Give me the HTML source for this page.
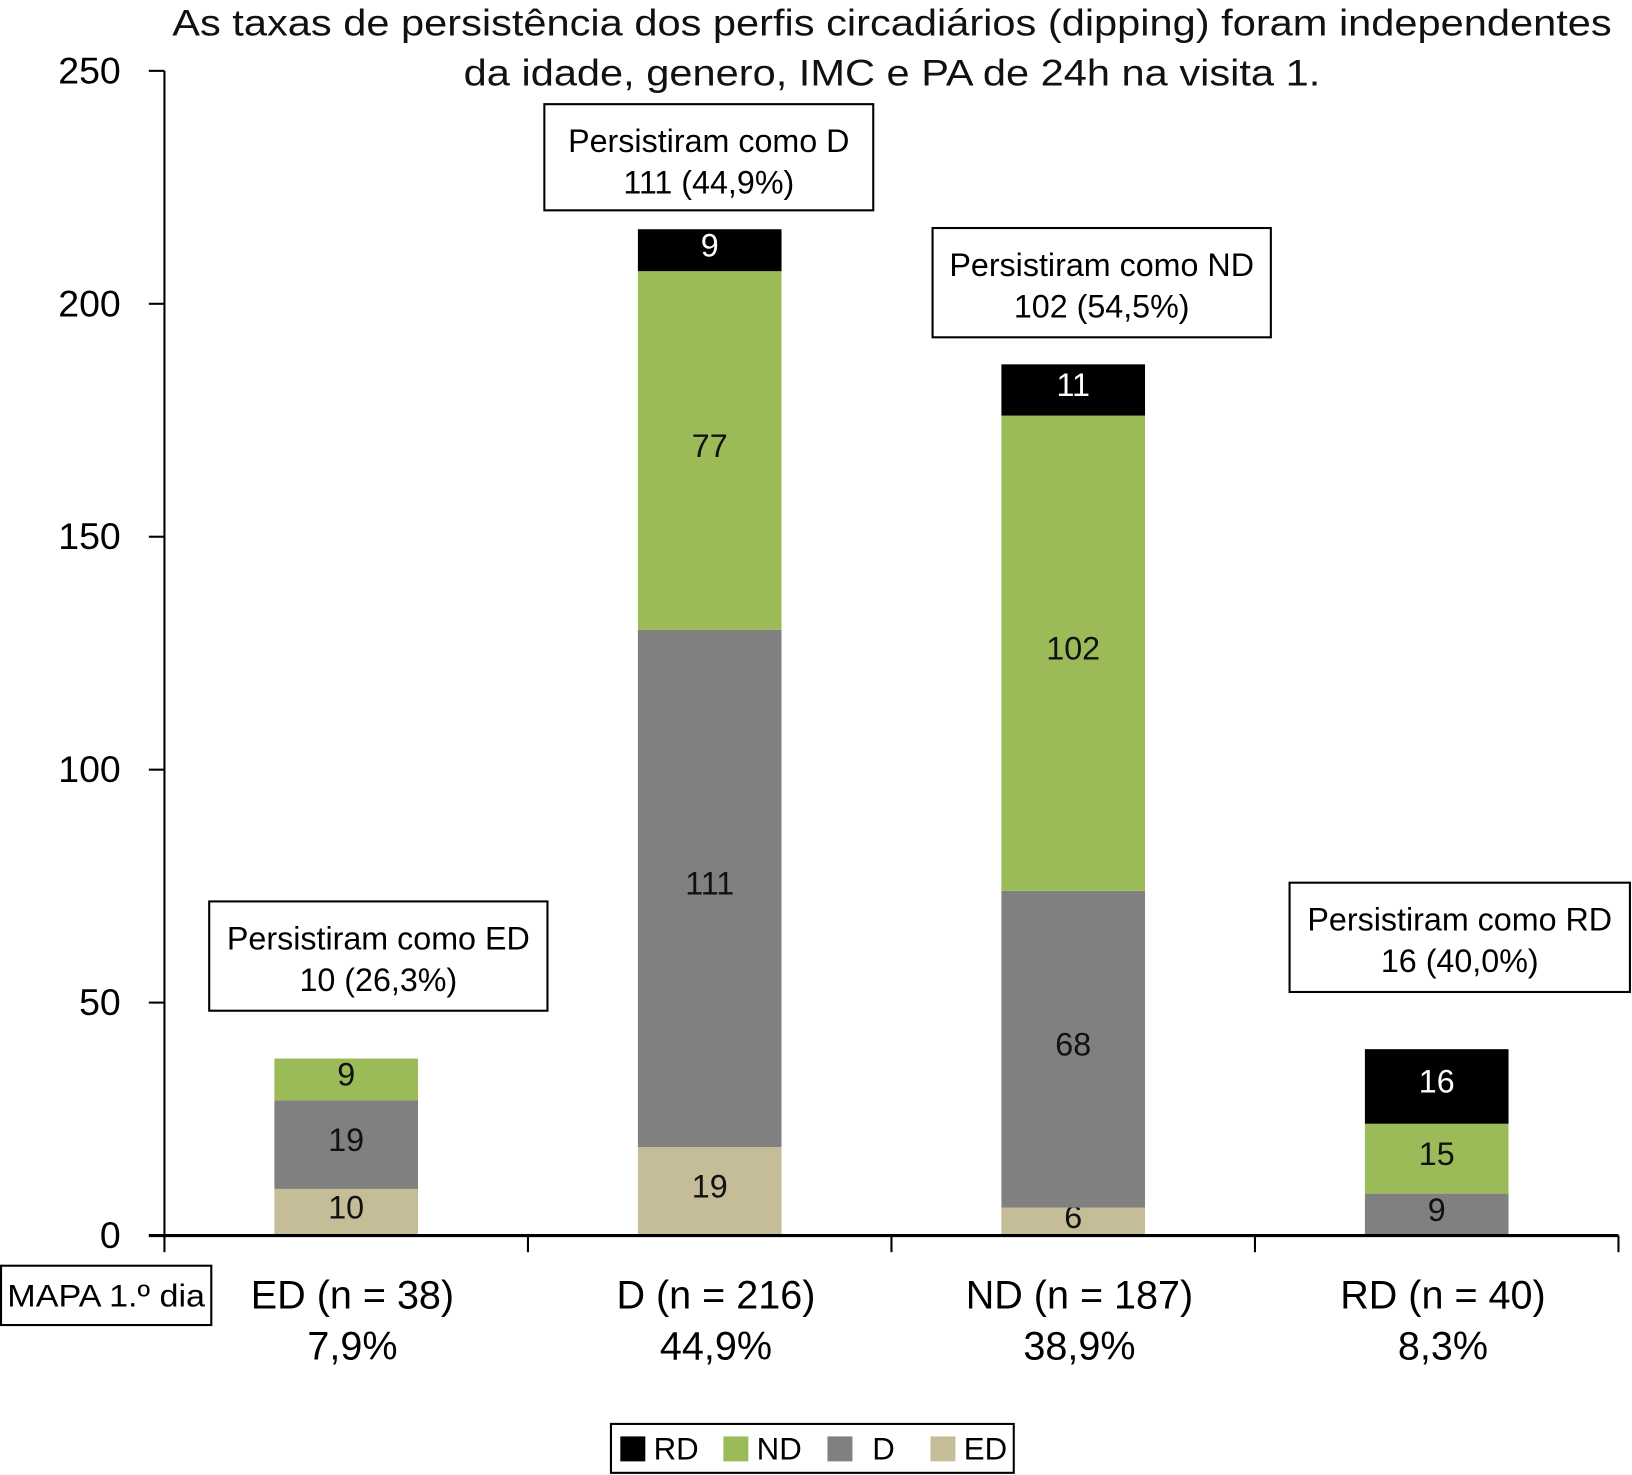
<!DOCTYPE html>
<html><head><meta charset="utf-8"><style>
html,body{margin:0;padding:0;background:#fff;}
svg{display:block;font-family:"Liberation Sans",sans-serif;}
</style></head><body>
<svg id="chart" width="1632" height="1475" viewBox="0 0 1568 1417" xmlns="http://www.w3.org/2000/svg">
<g font-size="36" fill="#111" text-anchor="middle">
<text x="857" y="34" textLength="1383" lengthAdjust="spacingAndGlyphs">As taxas de persistência dos perfis circadiários (dipping) foram independentes</text>
<text x="857" y="82" textLength="823" lengthAdjust="spacingAndGlyphs">da idade, genero, IMC e PA de 24h na visita 1.</text>
</g>
<g id="bars"></g>
<g id="axes"></g>
<g id="annots"></g>
<g>
<rect x="1" y="1216" width="202" height="57" fill="#fff" stroke="#000" stroke-width="2"/>
<text x="102" y="1255" font-size="30" text-anchor="middle" textLength="190" lengthAdjust="spacingAndGlyphs">MAPA 1.º dia</text>
</g>
<g id="legend">
<rect x="587" y="1368" width="387" height="47" fill="#fff" stroke="#000" stroke-width="2"/>
</g>
</svg>
<script>
const categories = ["ED (n = 38)", "D (n = 216)", "ND (n = 187)", "RD (n = 40)"];
const pctLabels = ["7,9%", "44,9%", "38,9%", "8,3%"];
const seriesNames = ["ED", "D", "ND", "RD"];
const valED = [10, 19, 6, 0];
const valD = [19, 111, 68, 9];
const valND = [9, 77, 102, 15];
const valRD = [0, 9, 11, 16];
const yTicks = [0, 50, 100, 150, 200, 250];
const annotTitles = ["Persistiram como ED", "Persistiram como D", "Persistiram como ND", "Persistiram como RD"];
const annotValues = ["10 (26,3%)", "111 (44,9%)", "102 (54,5%)", "16 (40,0%)"];

const NS = "http://www.w3.org/2000/svg";
const colors = ["#c4bd97", "#808080", "#9bbb59", "#000000"];
const textColors = ["#111", "#111", "#111", "#fff"];
const X0 = 158, X1 = 1555, Y0 = 1187, Y250 = 68;
const yScale = v => Y0 - (v / 250) * (Y0 - Y250);
const bandW = (X1 - X0) / categories.length;
const xCenter = i => X0 + bandW * (i + 0.5);
const barW = 138;
function mk(tag, attrs, parent, txt) {
  const e = document.createElementNS(NS, tag);
  for (const k in attrs) e.setAttribute(k, attrs[k]);
  if (txt !== undefined) e.textContent = txt;
  parent.appendChild(e);
  return e;
}
const series = [valED, valD, valND, valRD];
const gb = document.getElementById('bars');
categories.forEach((c, i) => {
  let cum = 0;
  series.forEach((s, k) => {
    const v = s[i];
    if (v <= 0) return;
    const yTop = yScale(cum + v), yBot = yScale(cum);
    const r = mk('rect', {x: xCenter(i) - barW / 2, y: yTop, width: barW, height: yBot - yTop, fill: colors[k]}, gb);
    
    
    const t = mk('text', {x: xCenter(i), y: (yTop + yBot) / 2 + 6, 'font-size': 31, 'text-anchor': 'middle', fill: textColors[k]}, gb, String(v));
    
    
    cum += v;
  });
});
const ga = document.getElementById('axes');
mk('line', {x1: X0, y1: Y250, x2: X0, y2: Y0, stroke: '#000', 'stroke-width': 2}, ga);
mk('line', {x1: 143, y1: Y0, x2: X1, y2: Y0, stroke: '#000', 'stroke-width': 3}, ga);
yTicks.forEach(v => {
  const y = yScale(v);
  mk('line', {x1: 143, y1: y, x2: X0, y2: y, stroke: '#000', 'stroke-width': 2}, ga);
  const t = mk('text', {x: 116, y: y + 12, 'font-size': 36, 'text-anchor': 'end'}, ga, String(v));
  
  
});
for (let i = 0; i <= categories.length; i++) {
  const x = X0 + bandW * i;
  mk('line', {x1: x, y1: Y0, x2: x, y2: Y0 + 16, stroke: '#000', 'stroke-width': 2}, ga);
}
categories.forEach((c, i) => {
  const t = mk('text', {x: xCenter(i) + 6, y: 1257, 'font-size': 38, 'text-anchor': 'middle'}, ga, c);
  
  
  const p = mk('text', {x: xCenter(i) + 6, y: 1306, 'font-size': 38, 'text-anchor': 'middle'}, ga, pctLabels[i]);
  
  
});
const boxes = [[201, 866, 325, 105], [523, 100, 316, 102], [896, 219, 325, 105], [1239, 848, 327, 105]];
const gn = document.getElementById('annots');
boxes.forEach((b, i) => {
  const g = mk('g', {}, gn);
  
  
  mk('rect', {x: b[0], y: b[1], width: b[2], height: b[3], fill: '#fff', stroke: '#000', 'stroke-width': 2}, g);
  const cx = b[0] + b[2] / 2;
  mk('text', {x: cx, y: b[1] + 46, 'font-size': 31, 'text-anchor': 'middle'}, g, annotTitles[i]);
  mk('text', {x: cx, y: b[1] + 86, 'font-size': 31, 'text-anchor': 'middle'}, g, annotValues[i]);
});
const gl = document.getElementById('legend');
const legOrder = [3, 2, 1, 0];
const legX = [596, 695, 795, 894];
const legTX = [628, 727, 838, 926];
legOrder.forEach((k, j) => {
  const g = mk('g', {}, gl);
  
  
  mk('rect', {x: legX[j], y: 1380, width: 24, height: 24, fill: colors[k]}, g);
  mk('text', {x: legTX[j], y: 1402, 'font-size': 30}, g, seriesNames[k]);
});
</script>
</body></html>
